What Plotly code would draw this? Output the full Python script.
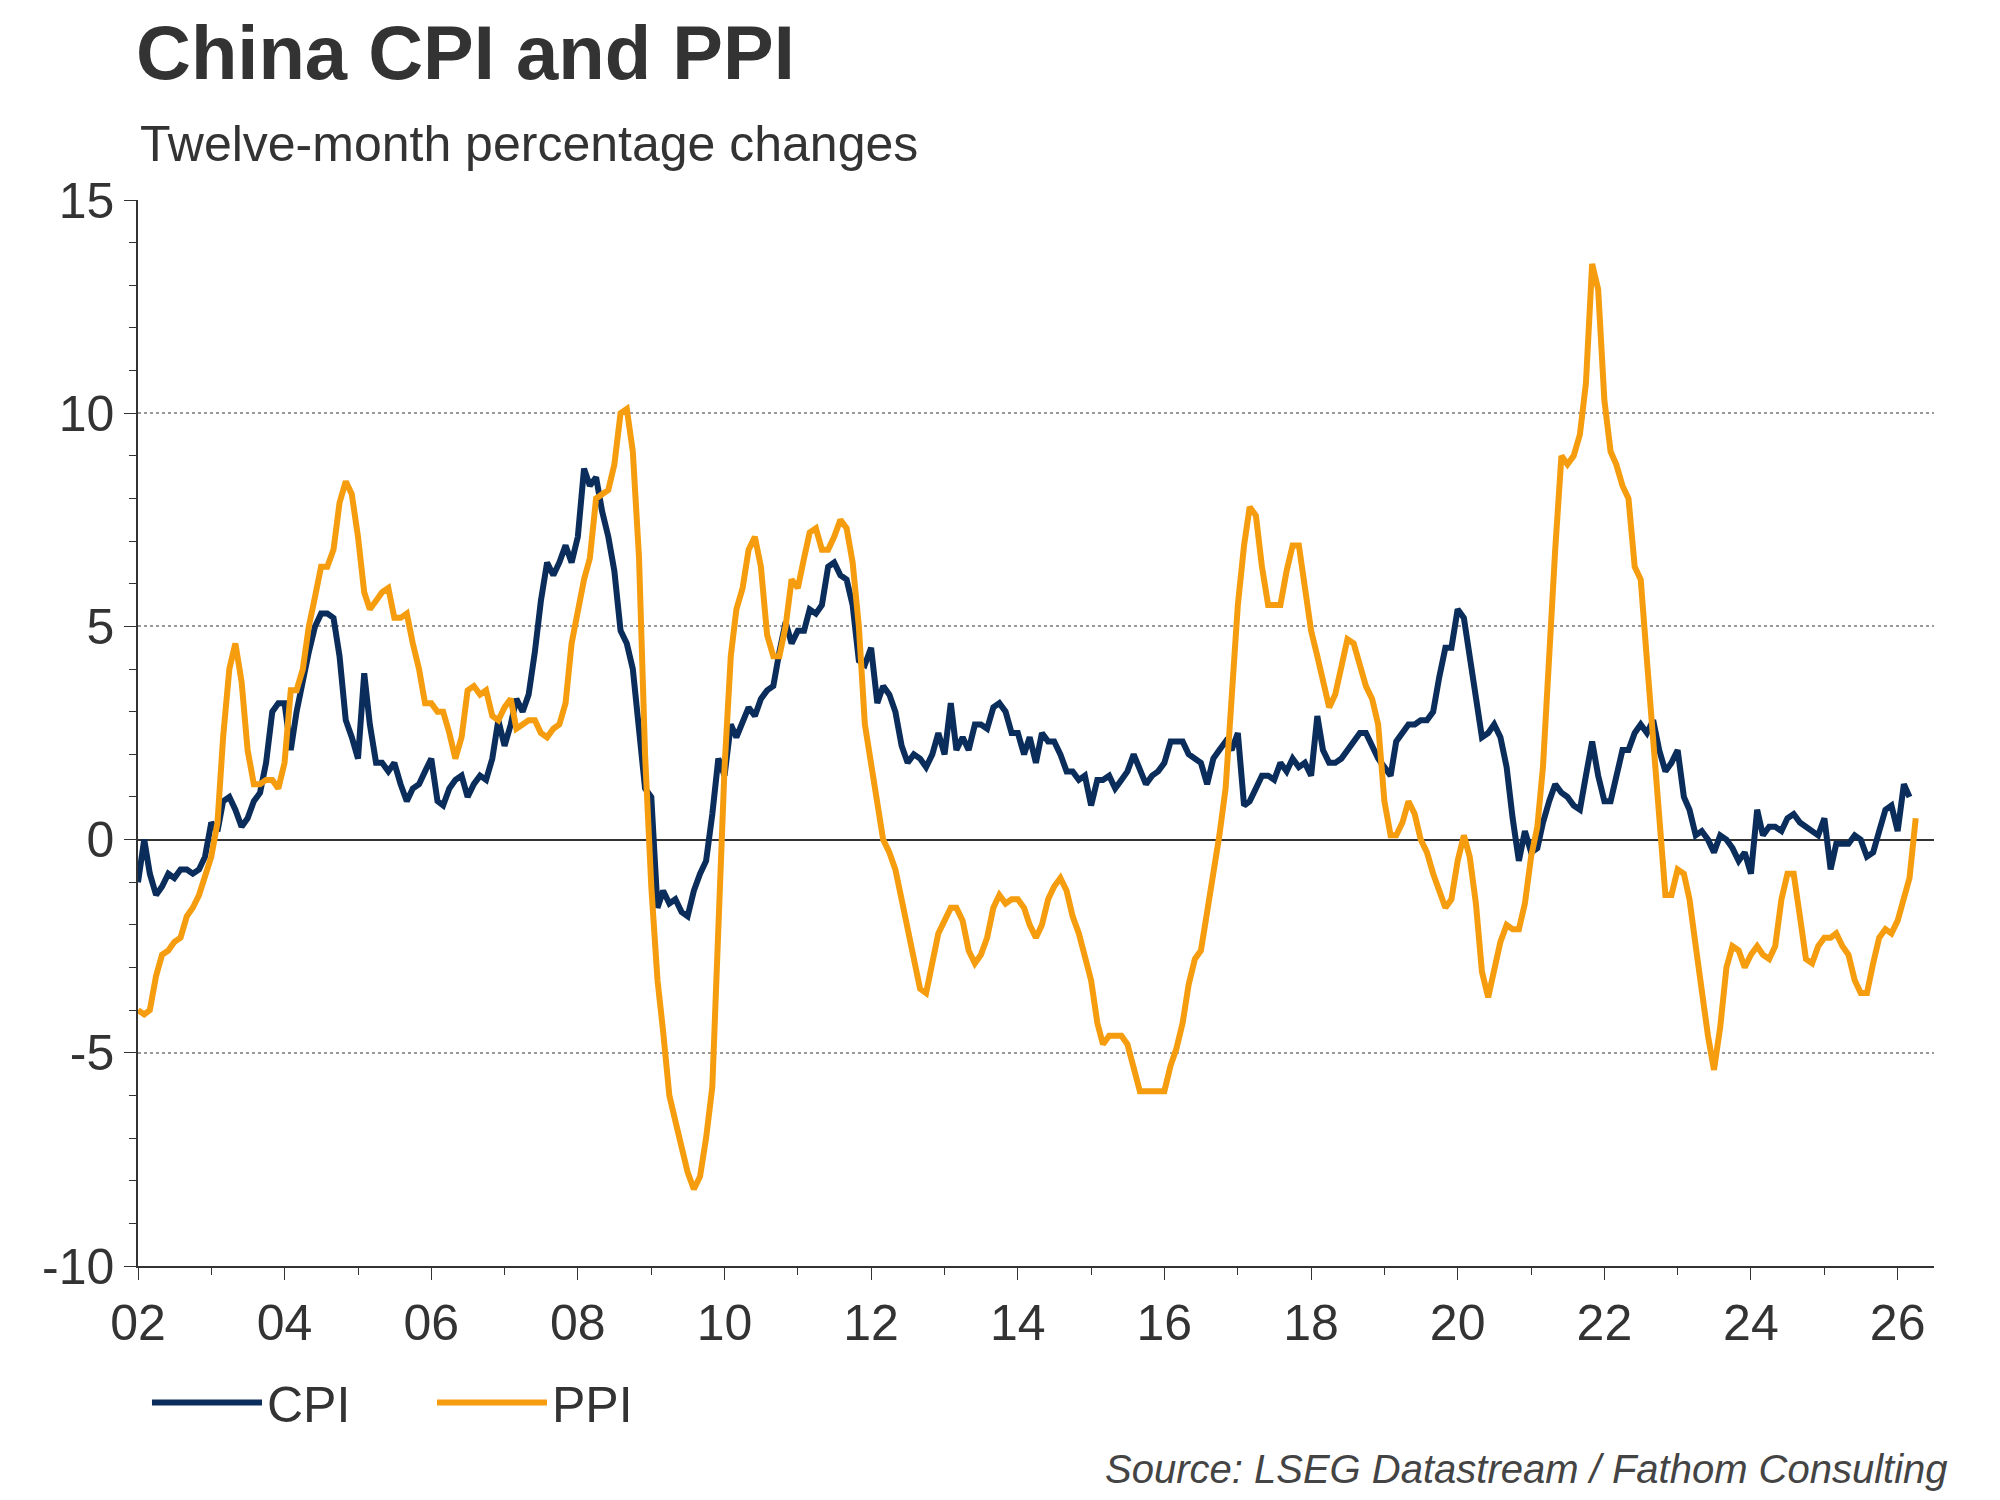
import plotly.graph_objects as go
import pandas as pd

cpi = [
-1.0,0.0,-0.8,-1.3,-1.1,-0.8,-0.9,-0.7,-0.7,-0.8,-0.7,-0.4,
0.4,0.2,0.9,1.0,0.7,0.3,0.5,0.9,1.1,1.8,3.0,3.2,
3.2,2.1,3.0,3.8,4.4,5.0,5.3,5.3,5.2,4.3,2.8,2.4,
1.9,3.9,2.7,1.8,1.8,1.6,1.8,1.3,0.9,1.2,1.3,1.6,
1.9,0.9,0.8,1.2,1.4,1.5,1.0,1.3,1.5,1.4,1.9,2.8,
2.2,2.7,3.3,3.0,3.4,4.4,5.6,6.5,6.2,6.5,6.9,6.5,
7.1,8.7,8.3,8.5,7.7,7.1,6.3,4.9,4.6,4.0,2.4,1.2,
1.0,-1.6,-1.2,-1.5,-1.4,-1.7,-1.8,-1.2,-0.8,-0.5,0.6,1.9,
1.5,2.7,2.4,2.8,3.1,2.9,3.3,3.5,3.6,4.4,5.1,4.6,
4.9,4.9,5.4,5.3,5.5,6.4,6.5,6.2,6.1,5.5,4.2,4.1,
4.5,3.2,3.6,3.4,3.0,2.2,1.8,2.0,1.9,1.7,2.0,2.5,
2.0,3.2,2.1,2.4,2.1,2.7,2.7,2.6,3.1,3.2,3.0,2.5,
2.5,2.0,2.4,1.8,2.5,2.3,2.3,2.0,1.6,1.6,1.4,1.5,
0.8,1.4,1.4,1.5,1.2,1.4,1.6,2.0,1.6,1.3,1.5,1.6,
1.8,2.3,2.3,2.3,2.0,1.9,1.8,1.3,1.9,2.1,2.3,2.1,
2.5,0.8,0.9,1.2,1.5,1.5,1.4,1.8,1.6,1.9,1.7,1.8,
1.5,2.9,2.1,1.8,1.8,1.9,2.1,2.3,2.5,2.5,2.2,1.9,
1.7,1.5,2.3,2.5,2.7,2.7,2.8,2.8,3.0,3.8,4.5,4.5,
5.4,5.2,4.3,3.3,2.4,2.5,2.7,2.4,1.7,0.5,-0.5,0.2,
-0.3,-0.2,0.4,0.9,1.3,1.1,1.0,0.8,0.7,1.5,2.3,1.5,
0.9,0.9,1.5,2.1,2.1,2.5,2.7,2.5,2.8,2.1,1.6,1.8,
2.1,1.0,0.7,0.1,0.2,0.0,-0.3,0.1,0.0,-0.2,-0.5,-0.3,
-0.8,0.7,0.1,0.3,0.3,0.2,0.5,0.6,0.4,0.3,0.2,0.1,
0.5,-0.7,-0.1,-0.1,-0.1,0.1,0.0,-0.4,-0.3,0.2,0.7,0.8,
0.2,1.3,1.0]

ppi = [
-4.0,-4.1,-4.0,-3.2,-2.7,-2.6,-2.4,-2.3,-1.8,-1.6,-1.3,-0.9,
-0.4,0.4,2.4,4.0,4.6,3.7,2.1,1.3,1.3,1.4,1.4,1.2,
1.8,3.5,3.5,4.0,5.0,5.7,6.4,6.4,6.8,7.9,8.4,8.1,
7.1,5.8,5.4,5.6,5.8,5.9,5.2,5.2,5.3,4.6,4.0,3.2,
3.2,3.0,3.0,2.5,1.9,2.4,3.5,3.6,3.4,3.5,2.9,2.8,
3.1,3.3,2.6,2.7,2.8,2.8,2.5,2.4,2.6,2.7,3.2,4.6,
5.4,6.1,6.6,8.0,8.1,8.2,8.8,10.0,10.1,9.1,6.6,2.0,
-1.1,-3.3,-4.5,-6.0,-6.6,-7.2,-7.8,-8.2,-7.9,-7.0,-5.8,-2.1,
1.7,4.3,5.4,5.9,6.8,7.1,6.4,4.8,4.3,4.3,5.0,6.1,
5.9,6.6,7.2,7.3,6.8,6.8,7.1,7.5,7.3,6.5,5.0,2.7,
1.7,0.7,0.0,-0.3,-0.7,-1.4,-2.1,-2.9,-3.5,-3.6,-2.8,-2.2,
-1.9,-1.6,-1.6,-1.9,-2.6,-2.9,-2.7,-2.3,-1.6,-1.3,-1.5,-1.4,
-1.4,-1.6,-2.0,-2.3,-2.0,-1.4,-1.1,-0.9,-1.2,-1.8,-2.2,-2.7,
-3.3,-4.3,-4.8,-4.6,-4.6,-4.6,-4.8,-5.4,-5.9,-5.9,-5.9,-5.9,
-5.9,-5.3,-4.9,-4.3,-3.4,-2.8,-2.6,-1.7,-0.8,0.1,1.2,3.3,
5.5,6.9,7.8,7.6,6.4,5.5,5.5,5.5,6.3,6.9,6.9,5.8,
4.9,4.3,3.7,3.1,3.4,4.1,4.7,4.6,4.1,3.6,3.3,2.7,
0.9,0.1,0.1,0.4,0.9,0.6,0.0,-0.3,-0.8,-1.2,-1.6,-1.4,
-0.5,0.1,-0.4,-1.5,-3.1,-3.7,-3.0,-2.4,-2.0,-2.1,-2.1,-1.5,
-0.4,0.3,1.7,4.4,6.8,9.0,8.8,9.0,9.5,10.7,13.5,12.9,
10.3,9.1,8.8,8.3,8.0,6.4,6.1,4.2,2.3,0.9,-1.3,-1.3,
-0.7,-0.8,-1.4,-2.5,-3.6,-4.6,-5.4,-4.4,-3.0,-2.5,-2.6,-3.0,
-2.7,-2.5,-2.7,-2.8,-2.5,-1.4,-0.8,-0.8,-1.8,-2.8,-2.9,-2.5,
-2.3,-2.3,-2.2,-2.5,-2.7,-3.3,-3.6,-3.6,-2.9,-2.3,-2.1,-2.2,
-1.9,-1.4,-0.9,0.5]

dates_cpi = pd.date_range("2002-01-01", periods=len(cpi), freq="MS")
dates_ppi = pd.date_range("2002-01-01", periods=len(ppi), freq="MS")
tick_years = list(range(2002, 2027, 2))
tick_labels = [f"{y % 100:02d}" for y in tick_years]
y_ticks = [-10, -5, 0, 5, 10, 15]
y_labels = ["-10", "-5", "0", "5", "10", "15"]

fig = go.Figure()
fig.add_trace(go.Scatter(x=dates_cpi, y=cpi, name="CPI", mode="lines",
                         line=dict(color="#0b2d5b", width=6)))
fig.add_trace(go.Scatter(x=dates_ppi, y=ppi, name="PPI", mode="lines",
                         line=dict(color="#f59d0e", width=6)))

font = "Liberation Sans, Arial, sans-serif"
fig.update_layout(
    width=2000, height=1500, plot_bgcolor="white", paper_bgcolor="white",
    margin=dict(l=130, r=74, t=192, b=242),
    font=dict(family=font, color="#333333", size=50),
    title=dict(text="<b>China CPI and PPI</b>", x=0.064, xanchor="left",
               y=0.988, yanchor="top", font=dict(size=76, color="#333333")),
    legend=dict(orientation="h", x=0.005, y=-0.128, xanchor="left", yanchor="middle",
                font=dict(size=50), itemwidth=110, entrywidth=160),
    showlegend=True,
)
fig.add_annotation(text="Twelve-month percentage changes", xref="paper", yref="paper",
                   x=0.0, y=1.053, xanchor="left", yanchor="middle", showarrow=False,
                   font=dict(size=50, color="#333333"))
fig.add_annotation(text="<i>Source: LSEG Datastream / Fathom Consulting</i>", xref="paper",
                   yref="paper", x=1.009, y=-0.19, xanchor="right", yanchor="middle",
                   showarrow=False, font=dict(size=40, color="#444444"))
fig.update_xaxes(range=["2002-01-01", "2026-07-01"],
                 tickvals=[pd.Timestamp(f"{y}-01-01") for y in tick_years], ticktext=tick_labels,
                 ticks="outside", ticklen=12, tickcolor="#333", showline=True, linecolor="#333",
                 linewidth=1.5, showgrid=False, zeroline=False,
                 minor=dict(tickvals=[pd.Timestamp(f"{y}-01-01") for y in range(2003, 2027, 2)],
                            ticks="outside", ticklen=7, tickcolor="#333"))
fig.update_yaxes(range=[-10, 15], tickvals=y_ticks, ticktext=y_labels, ticks="outside",
                 ticklen=12, tickcolor="#333", showline=True, linecolor="#333", linewidth=1.5,
                 showgrid=True, gridcolor="#999", griddash="dot", gridwidth=1.5,
                 zeroline=True, zerolinecolor="#333", zerolinewidth=1.5,
                 minor=dict(dtick=1, ticks="outside", ticklen=7, tickcolor="#333", showgrid=False))
fig.write_html("out.html")
